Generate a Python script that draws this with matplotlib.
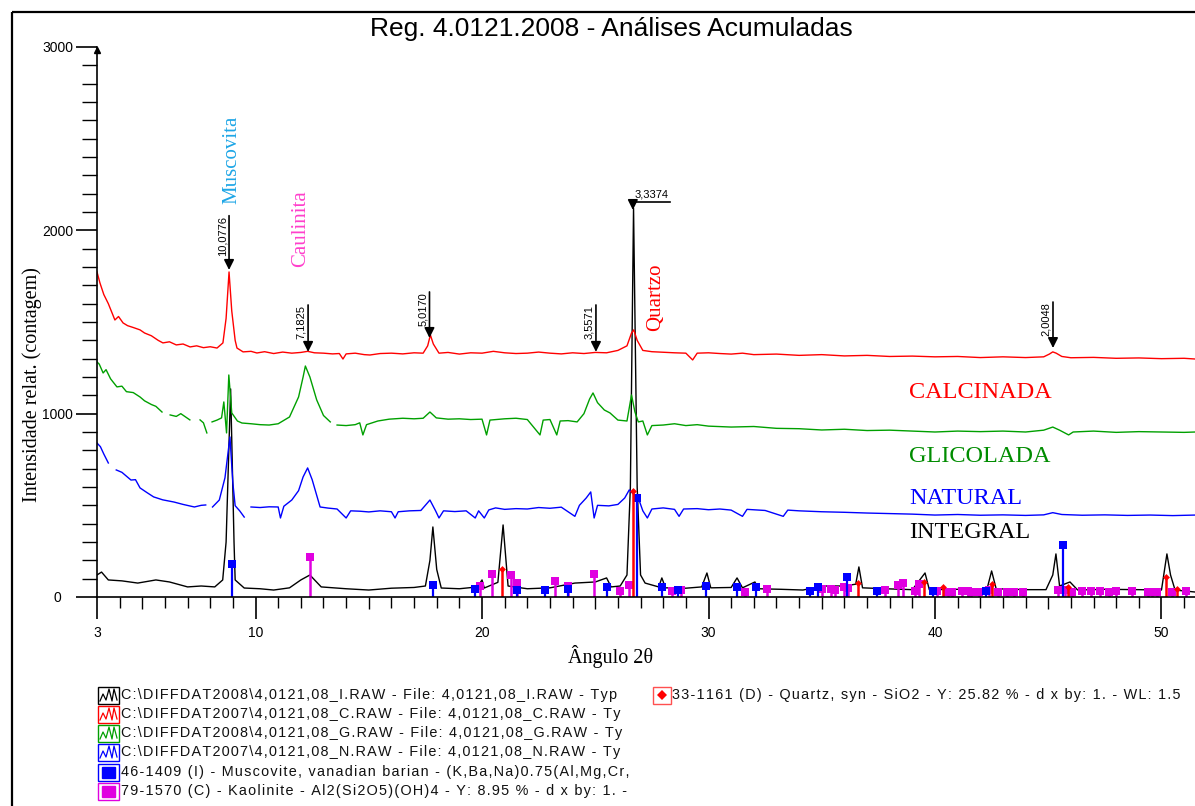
import numpy as np
import matplotlib
matplotlib.use("Agg")
import matplotlib.pyplot as plt
from matplotlib.patches import Rectangle
from matplotlib.lines import Line2D

# ---- data (2theta in degrees, counts) ----
nan = np.nan

calc_x = [3.0, 3.13, 3.3, 3.5, 3.79, 3.95, 4.15, 4.35, 4.6, 4.9, 5.1, 5.4, 5.7, 5.91, 6.2, 6.5, 6.8,
          7.11, 7.4, 7.7, 8.0, 8.3, 8.56, 8.7, 8.83, 8.95, 9.1, 9.18, 9.45, 9.8, 10.06, 10.4, 10.8,
          11.2, 11.6, 12.0, 12.3, 12.6, 13.0, 13.4, 13.7, 13.86, 14.0, 14.4, 14.8, 15.05, 15.5, 16.0,
          16.5, 17.0, 17.4, 17.6, 17.72, 17.85, 18.1, 18.5, 19.0, 19.5, 20.0, 20.5, 21.0, 21.5, 22.0,
          22.5, 23.0, 23.5, 24.0, 24.5, 25.0, 25.5, 26.0, 26.4, 26.6, 26.7, 26.85, 27.1, 27.5, 28.0,
          28.5, 29.0, 29.3, 29.5, 30.0, 30.5, 31.0, 31.5, 32.0, 33.0, 34.0, 35.0, 36.0, 37.0, 38.0,
          39.0, 40.0, 41.0, 42.0, 43.0, 44.0, 44.8, 45.05, 45.2, 45.35, 45.6, 46.0, 47.0, 48.0, 49.0,
          50.0, 51.0, 51.5]
calc_y = [1773, 1713, 1650, 1600, 1511, 1530, 1495, 1480, 1470, 1457, 1440, 1425, 1400, 1386, 1392,
          1375, 1380, 1364, 1370, 1360, 1365, 1358, 1386, 1520, 1773, 1560, 1400, 1358, 1337, 1340,
          1331, 1338, 1328, 1336, 1330, 1334, 1340, 1332, 1330, 1326, 1328, 1298, 1326, 1330, 1322,
          1320, 1328, 1330, 1326, 1332, 1330, 1370, 1429, 1380, 1330, 1334, 1325, 1332, 1330, 1340,
          1332, 1328, 1330, 1336, 1330, 1326, 1332, 1328, 1334, 1332, 1345, 1370, 1440, 1457, 1400,
          1345, 1338, 1335, 1332, 1330, 1293, 1330, 1332, 1328, 1325, 1330, 1322, 1325, 1318, 1322,
          1315, 1318, 1312, 1314, 1310, 1312, 1306, 1310, 1306, 1310, 1325, 1337, 1330, 1312, 1305,
          1307, 1302, 1304, 1300, 1302, 1298]

glic_x = [3.0, 3.1, 3.27, 3.4, 3.6, 3.88, 4.1, 4.3, 4.6, 4.9, 5.1, 5.4, 5.6, 5.87, 6.0, 6.23, 6.5,
          6.7, 7.1, 7.25, 7.55, 7.7, 7.85, 7.95, 8.08, 8.3, 8.5, 8.6, 8.72, 8.82, 8.95, 9.2, 9.4, 9.8,
          10.2, 10.6, 11.0, 11.5, 11.9, 12.1, 12.2, 12.4, 12.7, 13.0, 13.3, 13.45, 13.6, 14.0, 14.4,
          14.6, 14.74, 14.9, 15.4, 15.9, 16.5, 17.0, 17.4, 17.7, 17.98, 18.5, 19.0, 19.5, 20.0, 20.2,
          20.35, 21.0, 21.5, 22.0, 22.56, 22.7, 23.0, 23.3, 23.45, 23.8, 24.2, 24.5, 24.75, 24.9, 25.1,
          25.4, 25.65, 26.0, 26.4, 26.6, 26.75, 26.9, 27.1, 27.3, 27.5, 28.0, 28.5, 29.0, 29.5, 30.0,
          31.0, 32.0, 33.0, 34.0, 35.0, 36.0, 37.0, 38.0, 39.0, 40.0, 41.0, 42.0, 43.0, 44.0, 44.8,
          45.2, 45.5, 45.9, 46.1, 47.0, 48.0, 49.0, 50.0, 51.0, 51.5]
glic_y = [1282, 1270, 1222, 1240, 1190, 1146, 1150, 1120, 1115, 1091, 1070, 1050, 1040, 1009, nan,
          993, 985, 1000, 966, nan, 966, 950, 895, nan, 955, 965, 977, 1064, 895, 1211, 1004, 960,
          949, 945, 940, 938, 945, 982, 1091, 1200, 1260, 1200, 1075, 990, 955, nan, 938, 935, 940,
          950, 884, 940, 960, 970, 975, 972, 975, 1009, 977, 970, 972, 968, 970, 884, 965, 972, 975,
          968, 884, 965, 968, 884, 960, 962, 955, 1000, 1080, 1113, 1060, 1020, 1004, 965, 960, 1102,
          1010, 955, 960, 884, 935, 938, 945, 935, 940, 932, 927, 930, 920, 918, 911, 915, 908, 910,
          905, 900, 905, 902, 905, 900, 910, 927, 910, 884, 900, 905, 898, 902, 900, 898, 900]

nat_x = [3.0, 3.15, 3.3, 3.5, 3.6, 3.85, 4.1, 4.5, 4.7, 4.9, 5.2, 5.5, 5.9, 6.4, 6.8, 7.3, 7.6, 7.8,
         7.95, 8.1, 8.4, 8.65, 8.87, 9.0, 9.1, 9.3, 9.5, 9.6, 9.8, 10.2, 10.6, 11.0, 11.1, 11.25, 11.6,
         11.9, 12.1, 12.3, 12.5, 12.85, 13.2, 13.6, 14.0, 14.2, 14.6, 15.0, 15.5, 16.0, 16.16, 16.3,
         16.8, 17.3, 17.7, 17.95, 18.1, 18.3, 18.8, 19.3, 19.7, 19.85, 20.1, 20.3, 20.6, 21.0, 21.5,
         22.0, 22.5, 23.0, 23.5, 24.1, 24.3, 24.6, 24.8, 24.95, 25.1, 25.6, 26.0, 26.3, 26.5, 26.7,
         26.9, 27.1, 27.3, 27.5, 28.0, 28.5, 28.7, 28.9, 29.5, 30.0, 30.5, 31.0, 31.5, 31.7, 32.5,
         33.3, 33.5, 34.0, 35.0, 36.0, 37.0, 38.0, 39.0, 40.0, 41.0, 42.0, 43.0, 44.0, 44.8, 45.2,
         45.6, 46.5, 47.5, 48.5, 49.5, 50.5, 51.5]
nat_y = [840, 820, 780, 731, nan, 693, 680, 638, 640, 595, 570, 546, 530, 518, 505, 491, 500, 502,
         nan, 491, 529, 650, 873, 620, 498, 470, 436, nan, 491, 488, 492, 491, 431, 495, 529, 580,
         655, 704, 640, 491, 485, 480, 431, 470, 468, 464, 470, 465, 431, 465, 470, 472, 529, 470,
         431, 470, 466, 470, 431, 470, 431, 475, 486, 478, 482, 480, 488, 484, 490, 440, 500, 540,
         573, 431, 500, 497, 505, 540, 584, 560, 540, 470, 431, 480, 486, 478, 440, 480, 482, 476,
         480, 474, 440, 478, 472, 440, 474, 470, 465, 462, 458, 455, 452, 447, 450, 446, 448, 445,
         448, 460, 450, 446, 448, 445, 447, 444, 447]

int_x = [3.0, 3.2, 3.5, 4.1, 4.8, 5.6, 6.2, 7.0, 7.6, 8.2, 8.55, 8.7, 8.9, 9.05, 9.1, 9.5, 10.2, 10.8,
         11.5, 12.0, 12.4, 12.9, 14.0, 15.0, 16.0, 17.0, 17.5, 17.7, 17.83, 18.0, 18.2, 19.0, 19.8,
         20.0, 20.1, 20.7, 20.93, 21.15, 22.0, 23.0, 24.1, 25.0, 25.5, 25.7, 26.1, 26.4, 26.55, 26.69,
         26.85, 27.0, 27.2, 27.8, 27.94, 28.1, 29.0, 29.7, 29.93, 30.1, 31.0, 31.26, 31.5, 32.05, 32.2,
         33.2, 34.17, 35.05, 36.0, 36.5, 36.64, 36.8, 37.8, 39.0, 39.56, 39.75, 41.0, 42.3, 42.5,
         42.7, 44.0, 44.9, 45.2, 45.34, 45.5, 45.96, 46.3, 47.5, 49.0, 50.0, 50.24, 50.4, 50.6, 51.5]
int_y = [120, 136, 93, 88, 76, 93, 82, 55, 60, 55, 93, 300, 1135, 300, 93, 49, 45, 38, 50, 93, 120,
         55, 45, 38, 48, 52, 60, 200, 382, 150, 49, 45, 55, 93, 49, 80, 393, 60, 45, 50, 76, 82, 104,
         55, 60, 120, 600, 2120, 600, 120, 76, 55, 104, 50, 48, 55, 131, 50, 52, 104, 50, 82, 45, 42,
         38, 60, 60, 70, 164, 50, 45, 40, 131, 40, 42, 45, 142, 45, 40, 40, 120, 235, 60, 82, 38, 42,
         40, 38, 235, 120, 38, 27]

# reference patterns (stick positions, relative heights in counts)
musc_x = [8.96, 17.83, 19.7, 21.54, 22.8, 23.8, 25.5, 26.84, 27.94, 28.65, 29.9, 31.26, 32.1, 34.48,
          34.83, 36.1, 37.44, 39.9, 42.25, 45.65]
musc_y = [180, 65, 44, 38, 38, 45, 55, 540, 55, 38, 60, 55, 55, 33, 55, 109, 33, 33, 33, 284]

kaol_x = [12.4, 19.9, 20.44, 21.3, 21.55, 23.2, 23.8, 24.94, 26.1, 26.5, 28.4, 28.8, 31.6, 32.58,
          35.0, 35.4, 35.6, 36.0, 36.15, 37.8, 38.36, 38.58, 39.1, 39.3, 40.1, 40.57, 40.75, 41.2,
          41.45, 41.6, 41.95, 42.4, 42.8, 43.2, 43.5, 43.9, 45.43, 45.74, 46.05, 46.5, 46.9, 47.3,
          47.7, 48.0, 48.7, 49.4, 49.6, 49.8, 50.46, 51.1]
kaol_y = [218, 60, 125, 120, 76, 87, 60, 125, 33, 65, 33, 38, 27, 44, 44, 44, 38, 55, 50, 38, 65,
          76, 33, 71, 33, 27, 27, 33, 33, 27, 27, 38, 27, 27, 27, 27, 38, 38, 27, 33, 33, 33, 27, 33,
          33, 27, 27, 27, 27, 33]

qtz_x = [20.88, 26.66, 36.6, 39.5, 40.35, 42.5, 45.87, 50.2, 50.7]
qtz_y = [153, 578, 76, 82, 55, 71, 55, 109, 44]

# d-spacing tags: (2theta, top of tag, arrow tip, text)
tag_x = [8.83, 12.32, 17.68, 25.03, 45.21]
tag_top = [2080, 1593, 1664, 1593, 1609]
tag_tip = [1784, 1337, 1413, 1337, 1358]
tag_text = ["10,0776", "7,1825", "5,0170", "3,5571", "2,0048"]

legend_rows = [
    ("C:\\DIFFDAT2008\\4,0121,08_I.RAW - File: 4,0121,08_I.RAW - Typ", "black", "trace"),
    ("C:\\DIFFDAT2007\\4,0121,08_C.RAW - File: 4,0121,08_C.RAW - Ty", "#ff0000", "trace"),
    ("C:\\DIFFDAT2008\\4,0121,08_G.RAW - File: 4,0121,08_G.RAW - Ty", "#00a000", "trace"),
    ("C:\\DIFFDAT2007\\4,0121,08_N.RAW - File: 4,0121,08_N.RAW - Ty", "#0000ff", "trace"),
    ("46-1409 (I) - Muscovite, vanadian barian - (K,Ba,Na)0.75(Al,Mg,Cr,", "#0000ff", "square"),
    ("79-1570 (C) - Kaolinite - Al2(Si2O5)(OH)4 - Y: 8.95 % - d x by: 1. -", "#e000e0", "square"),
]
quartz_legend = "33-1161 (D) - Quartz, syn - SiO2 - Y: 25.82 % - d x by: 1. - WL: 1.5"

SANS = "Liberation Sans"
SERIF = "Liberation Serif"


def spaced(s):
    # the instrument software prints its legend with loose letter spacing
    return "\u200a".join(s)


W, H = 1195, 806
fig = plt.figure(figsize=(W / 100, H / 100), dpi=100)

# overlay in pixel coordinates for frame, titles and legend block
ov = fig.add_axes([0, 0, 1, 1])
ov.set_xlim(0, W)
ov.set_ylim(H, 0)
ov.axis("off")
ov.set_zorder(0)

ax = fig.add_axes([97 / W, 1 - 597 / H, 1098 / W, 550 / H])
ax.set_zorder(1)
ax.patch.set_visible(False)

# traces
ax.plot(int_x, int_y, color="black", lw=1.0)
ax.plot(calc_x, calc_y, color="#ff0000", lw=1.0)
ax.plot(glic_x, glic_y, color="#00a000", lw=1.0)
ax.plot(nat_x, nat_y, color="#0000ff", lw=1.0)

# sticks
ax.vlines(kaol_x, 0, kaol_y, color="#e000e0", lw=1.8)
ax.plot(kaol_x, kaol_y, "s", color="#e000e0", ms=6, mew=0)
ax.vlines(musc_x, 0, musc_y, color="#0000ff", lw=1.6)
ax.plot(musc_x, musc_y, "s", color="#0000ff", ms=6, mew=0)
ax.vlines(qtz_x, 0, qtz_y, color="#ff0000", lw=1.8)
ax.plot(qtz_x, qtz_y, "D", color="#ff0000", ms=3.5, mew=0)

# axes styling
ax.set_xlim(3, 51.48)
ax.set_ylim(0, 3000)
for s in ["top", "right"]:
    ax.spines[s].set_visible(False)
ax.spines["left"].set_linewidth(1.2)
ax.spines["bottom"].set_linewidth(1.2)

ax.set_xticks([3, 10, 20, 30, 40, 50])
ax.set_xticks([i for i in range(4, 52) if i % 5 != 0], minor=True)
ax.set_yticks([0, 1000, 2000, 3000])
ax.set_yticks(np.arange(100, 3000, 100), minor=True)
ax.tick_params(axis="x", which="major", length=16, width=1.2, pad=5, labelsize=10)
ax.tick_params(axis="x", which="minor", length=8, width=1.0)
ax.tick_params(axis="y", which="major", length=15, width=1.2, pad=13.5, labelsize=10)
ax.tick_params(axis="y", which="minor", length=11, width=1.0)
for lab in ax.get_xticklabels() + ax.get_yticklabels():
    lab.set_fontfamily(SANS)
for lab in ax.get_yticklabels():
    lab.set_ha("center")
# medium ticks every 5 degrees
ax.vlines([5, 15, 25, 35, 45], 0, -12 / 550, transform=ax.get_xaxis_transform(),
          color="black", lw=1.0, clip_on=False)
# arrow head on the y axis
ax.plot([3], [2985], "^", color="black", ms=5, clip_on=False)

# d-spacing tags
arrow = dict(arrowstyle="-|>,head_length=0.6,head_width=0.3", color="black", lw=1.2,
             shrinkA=0, shrinkB=0, mutation_scale=10)
for x, yt, yp, t in zip(tag_x, tag_top, tag_tip, tag_text):
    ax.annotate("", xy=(x, yp), xytext=(x, yt), arrowprops=arrow)
    ax.text(x - 0.08, yt, t, rotation=90, ha="right", va="top", fontsize=8, family=SANS)
ax.plot([26.66, 28.3], [2155, 2155], color="black", lw=1.2)
ax.annotate("", xy=(26.66, 2111), xytext=(26.66, 2156), arrowprops=arrow)
ax.text(26.75, 2170, "3,3374", ha="left", va="bottom", fontsize=8, family=SANS)

# frame, titles and labels
ov.add_patch(Rectangle((12, 12), 1400, 1000, fill=False, ec="black", lw=1.6))
ov.text(611, 29, "Reg. 4.0121.2008 - Análises Acumuladas", ha="center", va="center",
        fontsize=19, family=SANS)
ov.text(32, 385, "Intensidade relat. (contagem)", rotation=90, ha="center", va="center",
        fontsize=14.5, family=SERIF)
ov.text(611, 657, "Ângulo 2θ", ha="center", va="center", fontsize=14.5, family=SERIF)

ov.text(232, 160, "Muscovita", rotation=90, ha="center", va="center", fontsize=15,
        family=SERIF, color="#1ea6e6")
ov.text(301, 229, "Caulinita", rotation=90, ha="center", va="center", fontsize=15,
        family=SERIF, color="#ff40cc")
ov.text(656, 297, "Quartzo", rotation=90, ha="center", va="center", fontsize=15,
        family=SERIF, color="#ff0000")

for txt, c, yy in [("CALCINADA", "#ff0000", 393), ("GLICOLADA", "#008c00", 456),
                   ("NATURAL", "#0000ff", 498), ("INTEGRAL", "black", 533)]:
    ov.text(909, yy, txt, ha="left", va="center", fontsize=17.5, family=SERIF, color=c)

# legend block
row_y = [695, 714, 733, 752, 772, 791]
for (txt, c, kind), yy in zip(legend_rows, row_y):
    ov.add_patch(Rectangle((98, yy - 8), 21, 17, fill=False, ec=c, lw=1.0))
    if kind == "trace":
        ov.add_line(Line2D([100, 103, 106, 109, 112, 114, 117],
                           [yy + 6, yy - 1, yy + 5, yy - 6, yy + 6, yy - 6, yy + 5],
                           color=c, lw=0.9))
    else:
        ov.add_patch(Rectangle((102, yy - 5), 13, 11, color=c))
    ov.text(121, yy, spaced(txt), ha="left", va="center", fontsize=10.4,
            family=[SANS, "DejaVu Sans"], color="#111111")

ov.add_patch(Rectangle((653, 687), 18, 17, fill=False, ec="#ff5050", lw=1.0))
ov.plot([662], [695], "D", color="#ff0000", ms=5, mew=0)
ov.text(672, 695, spaced(quartz_legend), ha="left", va="center", fontsize=10.4,
        family=[SANS, "DejaVu Sans"], color="#111111")

fig.savefig("out.png", dpi=100)
